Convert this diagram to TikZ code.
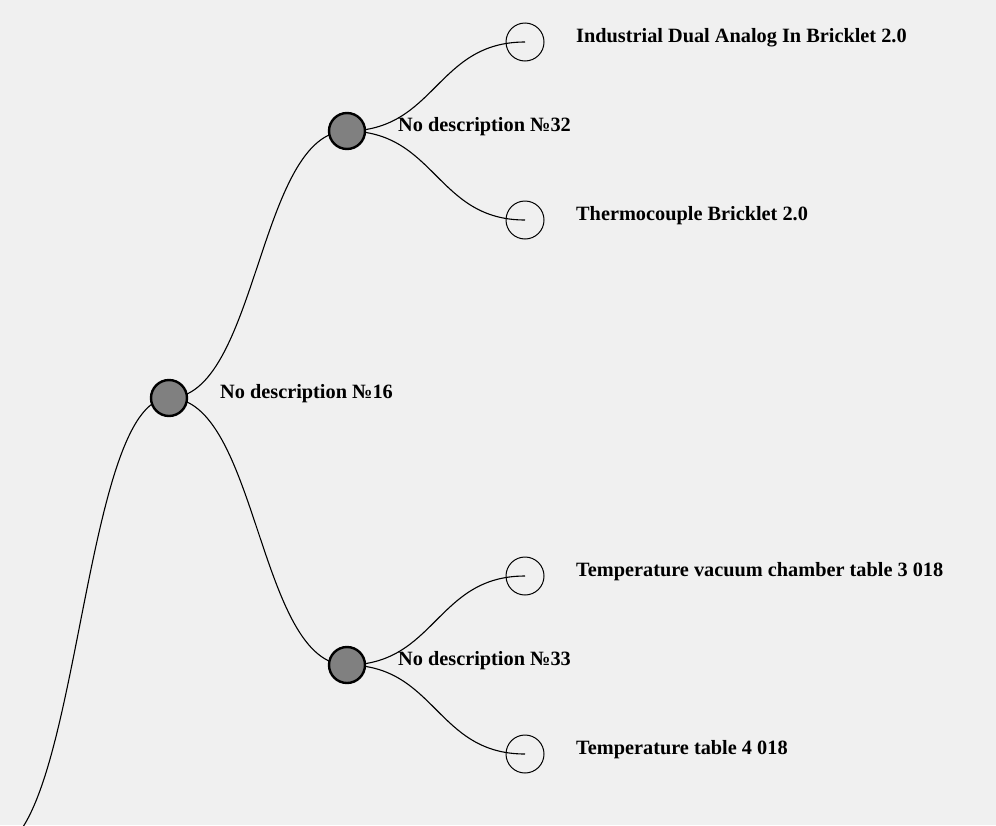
\documentclass[tikz,border=0pt]{standalone}
\usepackage{fontspec}
\setmainfont{Liberation Serif}
\usetikzlibrary{calc}

\definecolor{bggray}{HTML}{F0F0F0}
\definecolor{nodegray}{HTML}{808080}

\tikzset{
	inner/.style={circle,draw=black,line width=2.4pt,fill=nodegray,minimum size=36pt,inner sep=0pt},
	leaf/.style={circle,draw=black,line width=1pt,minimum size=38pt,inner sep=0pt},
	lbl/.style={anchor=base west,inner sep=0pt,font=\fontsize{20.3}{24}\selectfont\bfseries},
	link/.style={draw=black,line width=1.1pt}
}

% d3-like horizontal link between two node centres
\newcommand{\treelink}[2]{%
	\draw[link] let \p1=(#1.center), \p2=(#2.center) in
		(\p1) .. controls ({(\x1+\x2)/2},\y1) and ({(\x1+\x2)/2},\y2) .. (\p2);}

\begin{document}
\begin{tikzpicture}[x=1pt,y=-1pt]
		\fill[bggray] (0,0) rectangle (996,825);
		\useasboundingbox (0,0) rectangle (996,825);
		\clip (0,0) rectangle (996,825);
		% positions
		\coordinate (n0) at (-9,850);
		\coordinate (p16) at (169,398);
		\coordinate (p32) at (347,131);
		\coordinate (p33) at (347,665);
		\coordinate (pa) at (525,42);
		\coordinate (pb) at (525,220);
		\coordinate (pc) at (525,576);
		\coordinate (pd) at (525,754);
		% links
		\treelink{n0}{p16}
		\treelink{p16}{p32}
		\treelink{p16}{p33}
		\treelink{p32}{pa}
		\treelink{p32}{pb}
		\treelink{p33}{pc}
		\treelink{p33}{pd}
		% nodes
		\node[inner] (n16) at (p16) {};
		\node[inner] (n32) at (p32) {};
		\node[inner] (n33) at (p33) {};
		\node[leaf] (la) at (pa) {};
		\node[leaf] (lb) at (pb) {};
		\node[leaf] (lc) at (pc) {};
		\node[leaf] (ld) at (pd) {};
		% labels
		\node[lbl] (t16) at ([xshift=51pt]n16.center) {No description №16};
		\node[lbl] (t32) at ([xshift=51pt]n32.center) {No description №32};
		\node[lbl] (t33) at ([xshift=51pt]n33.center) {No description №33};
		\node[lbl] (ta) at ([xshift=51pt]la.center) {Industrial Dual Analog In Bricklet 2.0};
		\node[lbl] (tb) at ([xshift=51pt]lb.center) {Thermocouple Bricklet 2.0};
		\node[lbl] (tc) at ([xshift=51pt]lc.center) {Temperature vacuum chamber table 3 018};
		\node[lbl] (td) at ([xshift=51pt]ld.center) {Temperature table 4 018};
	\end{tikzpicture}
\end{document}
